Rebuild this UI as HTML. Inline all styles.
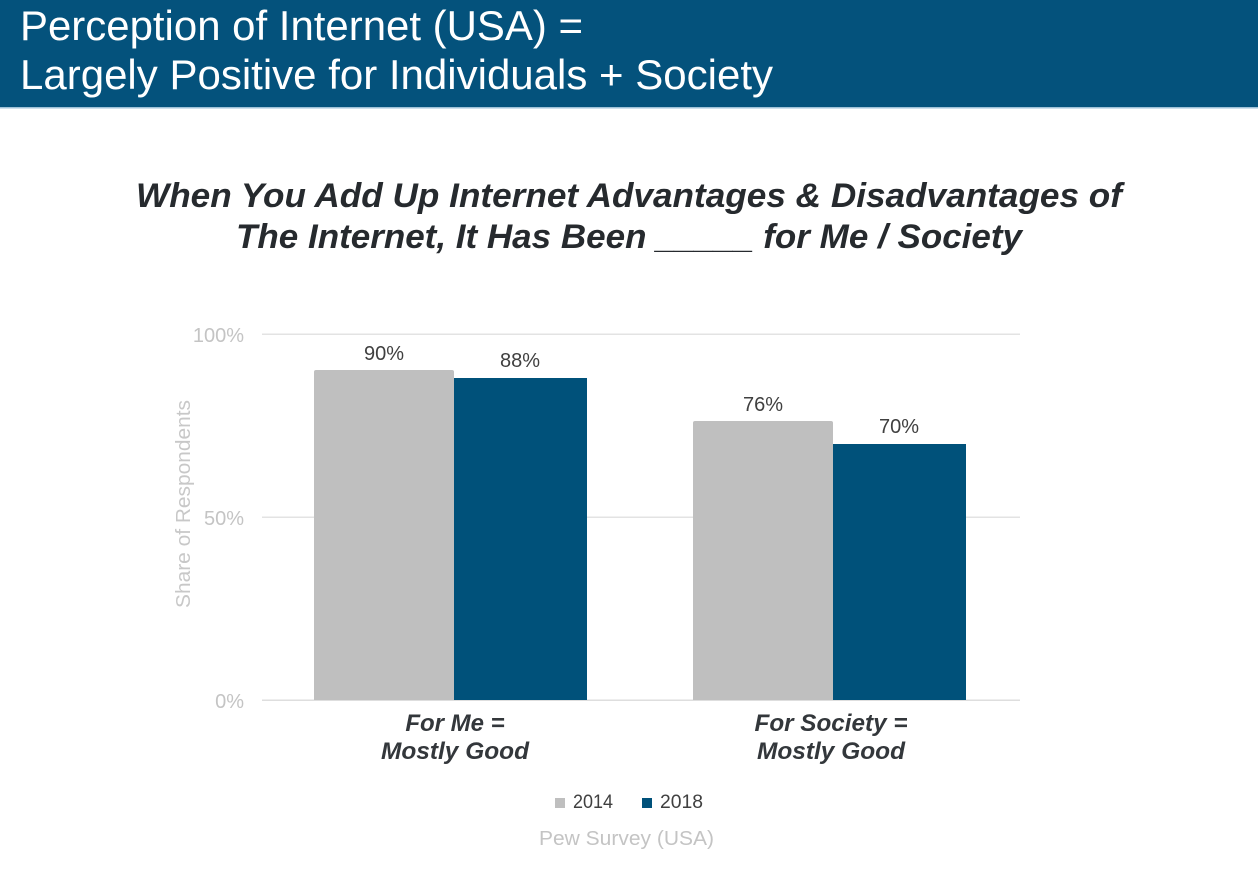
<!DOCTYPE html>
<html>
<head>
<meta charset="utf-8">
<style>
  html, body { margin: 0; padding: 0; background: #ffffff; }
  body { width: 1258px; height: 870px; overflow: hidden; }
  svg { display: block; }
  text { font-family: "Liberation Sans", Arial, sans-serif; }
</style>
</head>
<body>
<svg width="1258" height="870" viewBox="0 0 1258 870" xmlns="http://www.w3.org/2000/svg">
  <!-- Header band -->
  <rect x="0" y="0" width="1258" height="108" fill="#04527c"/>
  <rect x="0" y="107" width="1258" height="1.5" fill="#9fc2d8"/>
  <text x="20" y="40" font-size="42" fill="#ffffff" textLength="563" lengthAdjust="spacingAndGlyphs">Perception of Internet (USA) =</text>
  <text x="20" y="89" font-size="42" fill="#ffffff" textLength="753" lengthAdjust="spacingAndGlyphs">Largely Positive for Individuals + Society</text>

  <!-- Chart title -->
  <text x="629" y="207" font-size="34" font-weight="bold" font-style="italic" fill="#262a2e" text-anchor="middle" textLength="986" lengthAdjust="spacingAndGlyphs">When You Add Up Internet Advantages &amp; Disadvantages of</text>
  <text x="629" y="248" font-size="34" font-weight="bold" font-style="italic" fill="#262a2e" text-anchor="middle" textLength="786" lengthAdjust="spacingAndGlyphs">The Internet, It Has Been _____ for Me / Society</text>

  <!-- Gridlines -->
  <rect x="262" y="333.5" width="758" height="1.5" fill="#e3e3e3"/>
  <rect x="262" y="516.5" width="758" height="1.5" fill="#e3e3e3"/>
  <rect x="262" y="699.5" width="758" height="1.5" fill="#dedede"/>

  <!-- Y tick labels -->
  <text x="244" y="342" font-size="20" fill="#c4c4c4" text-anchor="end">100%</text>
  <text x="244" y="525" font-size="20" fill="#c4c4c4" text-anchor="end">50%</text>
  <text x="244" y="708" font-size="20" fill="#c4c4c4" text-anchor="end">0%</text>

  <!-- Y axis title -->
  <text transform="translate(190,504) rotate(-90)" x="0" y="0" font-size="20" fill="#c8c8c8" text-anchor="middle" textLength="208" lengthAdjust="spacingAndGlyphs">Share of Respondents</text>

  <!-- Bars group 1 -->
  <path d="M314,700 L314,372 Q314,370 316,370 L452,370 Q454,370 454,372 L454,700 Z" fill="#bfbfbf"/>
  <rect x="454" y="378" width="133" height="322" fill="#00517a"/>
  <!-- Bars group 2 -->
  <path d="M693,700 L693,423 Q693,421 695,421 L831,421 Q833,421 833,423 L833,700 Z" fill="#bfbfbf"/>
  <rect x="833" y="444" width="133" height="256" fill="#00517a"/>

  <!-- Data labels -->
  <text x="384" y="360" font-size="20" fill="#404040" text-anchor="middle">90%</text>
  <text x="520" y="367" font-size="20" fill="#404040" text-anchor="middle">88%</text>
  <text x="763" y="411" font-size="20" fill="#404040" text-anchor="middle">76%</text>
  <text x="899" y="433" font-size="20" fill="#404040" text-anchor="middle">70%</text>

  <!-- Category labels -->
  <text x="455" y="731" font-size="24" font-weight="bold" font-style="italic" fill="#33373b" text-anchor="middle">For Me =</text>
  <text x="455" y="759" font-size="24" font-weight="bold" font-style="italic" fill="#33373b" text-anchor="middle" textLength="148" lengthAdjust="spacingAndGlyphs">Mostly Good</text>
  <text x="831" y="731" font-size="24" font-weight="bold" font-style="italic" fill="#33373b" text-anchor="middle" textLength="153" lengthAdjust="spacingAndGlyphs">For Society =</text>
  <text x="831" y="759" font-size="24" font-weight="bold" font-style="italic" fill="#33373b" text-anchor="middle" textLength="148" lengthAdjust="spacingAndGlyphs">Mostly Good</text>

  <!-- Legend -->
  <rect x="555" y="798" width="10" height="10" fill="#bfbfbf"/>
  <text x="573" y="808" font-size="19" fill="#404040" textLength="40" lengthAdjust="spacingAndGlyphs">2014</text>
  <rect x="642" y="798" width="10" height="10" fill="#00517a"/>
  <text x="660" y="808" font-size="19" fill="#404040" textLength="43" lengthAdjust="spacingAndGlyphs">2018</text>

  <!-- Source -->
  <text x="626.5" y="845" font-size="20" fill="#c4c4c4" text-anchor="middle" textLength="175" lengthAdjust="spacingAndGlyphs">Pew Survey (USA)</text>
</svg>
</body>
</html>
